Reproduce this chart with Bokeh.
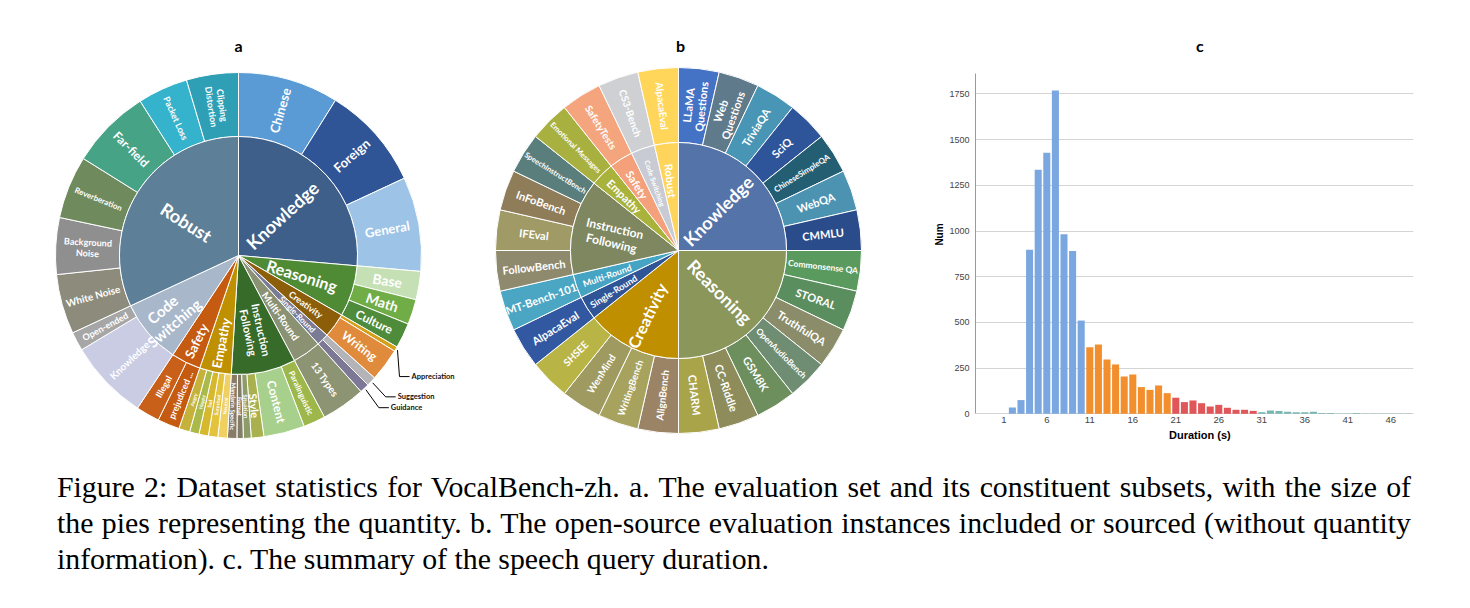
import math
from bokeh.plotting import figure
from bokeh.models import ColumnDataSource, Range1d, Div, FixedTicker
from bokeh.layouts import row, column
from bokeh.embed import file_html
from bokeh.resources import INLINE
from bokeh.core.properties import value

# ---------------- Panel a data (sizes) ----------------
a_inner_names = ["Knowledge", "Reasoning", "Creativity", "Single-Round", "Multi-Round",
                 "Instruction\nFollowing", "Empathy", "Safety", "Code\nSwitching", "Robust"]
a_inner_colors = ["#3E5F8A", "#4F8A35", "#8C5E0A", "#7A7C96", "#8B9274",
                  "#376B2A", "#BF9000", "#C55A11", "#A9B7CB", "#5E7F98"]
a_outer_parent = (["Knowledge"] * 3 + ["Reasoning"] * 3 + ["Creativity"] * 2 + ["Single-Round"] * 2
                  + ["Multi-Round"] + ["Instruction\nFollowing"] * 6 + ["Empathy"] * 5 + ["Safety"] * 2
                  + ["Code\nSwitching"] * 2 + ["Robust"] * 6)
a_outer_names = ["Chinese", "Foreign", "General", "Base", "Math", "Culture", "Appreciation", "Writing",
                 "Suggestion", "Guidance", "13 Types", "Paralinguistic", "Content", "Style", "Situation",
                 "Format", "Mandarin Specific", "Neutral", "Surprised", "Sad", "Happy", "Angry",
                 "prejudiced ...", "Illegal", "Knowledge", "Open-ended", "White Noise", "Background\nNoise",
                 "Reverberation", "Far-field", "Packet Loss", "Clipping\nDistortion"]
a_outer_values = [32, 33, 30, 9, 8, 8, 1.5, 10.5, 3, 3, 14, 7, 13, 4, 2.5, 2, 3,
                  3, 3, 3, 3, 3.5, 7, 7.5, 25.5, 6, 19, 18, 20, 25.5, 16, 16.5]
a_outer_colors = ["#5B9BD5", "#2F5597", "#9DC3E6", "#C5E0B4", "#70AD47", "#4E8B3A", "#D4A017", "#E08A3C",
                  "#B4B4B8", "#7C7896", "#8C9473", "#9DB74A", "#A8D08D", "#A9B04E", "#8D9B69",
                  "#817D67", "#8A7A68", "#F0D060", "#E3C23C", "#D6B82F", "#A9BA4A", "#C5B23A",
                  "#C55A11", "#C8601A", "#C9CCE3", "#A6A6A6", "#8D8B7B", "#8F8F8F", "#6F8A5C",
                  "#47A386", "#35B2CC", "#2E9FB5"]
a_callouts = ["Appreciation", "Suggestion", "Guidance"]

# ---------------- Panel b data (no quantity: equal slices) ----------------
b_inner_names = ["Knowledge", "Reasoning", "Creativity", "Single-Round", "Multi-Round",
                 "Instruction\nFollowing", "Empathy", "Safety", "Code Switching", "Robust"]
b_inner_colors = ["#5473A8", "#8A965A", "#BF8F00", "#2F5597", "#45A3C3",
                  "#7E8760", "#A9B23A", "#F4A07A", "#C8CBD3", "#FFD45A"]
b_outer_parent = (["Knowledge"] * 7 + ["Reasoning"] * 7 + ["Creativity"] * 4 + ["Single-Round"]
                  + ["Multi-Round"] + ["Instruction\nFollowing"] * 4 + ["Empathy"] + ["Safety"]
                  + ["Code Switching"] + ["Robust"])
b_outer_names = ["LLaMA\nQuestions", "Web\nQuestions", "TriviaQA", "SciQ", "ChineseSimpleQA", "WebQA", "CMMLU",
                 "Commonsense QA", "STORAL", "TruthfulQA", "OpenAudioBench", "GSM8K", "CC-Riddle", "CHARM",
                 "AlignBench", "WritingBench", "WenMind", "SHSEE", "AlpacaEval", "MT-Bench-101",
                 "FollowBench", "IFEval", "InFoBench", "SpeechInstructBench", "Emotional Messages",
                 "SafetyTests", "CS3-Bench", "AlpacaEval"]
b_outer_values = [1] * 28
b_outer_colors = ["#4472C4", "#5F7A8A", "#4995B5", "#2E549A", "#245E73", "#4C93B2", "#2B4C8A",
                  "#5A9A5E", "#5B8E5E", "#8A8C6A", "#6F8D72", "#6D8F5E", "#8D8C5A", "#A9A34A",
                  "#9B8466", "#A7A35E", "#9E9A60", "#B8B445", "#3158A0", "#4AA6C3",
                  "#8F8A6D", "#A09A66", "#8F7D5A", "#5A7E7B", "#A8B040", "#F4A57E", "#CFD0D4", "#FFD659"]

# ---------------- Panel c data ----------------
c_duration = list(range(1, 49))
c_counts = [0, 35, 75, 897, 1335, 1428, 1769, 982, 890, 510,
            364, 379, 297, 270, 204, 215, 146, 131, 155, 113,
            88, 64, 73, 58, 40, 49, 33, 22, 22, 16,
            9, 18, 16, 11, 9, 9, 11, 4, 4, 2,
            2, 5, 2, 1, 1, 2, 2, 1]
c_xticks = [1, 6, 11, 16, 21, 26, 31, 36, 41, 46]
c_yticks = [0, 250, 500, 750, 1000, 1250, 1500, 1750]
c_xlim = (-2.29, 48.64)
c_ylim = (0, 1860)

# ---------------- caption ----------------
caption_lines = [
    "Figure 2: Dataset statistics for VocalBench-zh. a. The evaluation set and its constituent subsets, with the size of",
    "the pies representing the quantity. b. The open-source evaluation instances included or sourced (without quantity",
    "information). c. The summary of the speech query duration.",
]

FONT = value("Lato")

# style lists
a_inner_fs = ["18px", "16px", "9px", "8px", "10px", "11px", "13px", "13px", "15px", "18px"]
a_inner_rf = [0.50, 0.56, 0.70, 0.70, 0.62, 0.65, 0.75, 0.80, 0.78, 0.52]
a_outer_fs = [13, 13, 13, 14, 14, 12, 0, 12, 0, 0, 10, 8, 12, 11, 6, 6, 6,
              5, 5, 5, 5, 5, 9, 9, 10, 9, 10, 9, 8, 12, 9, 9]
b_inner_fs = ["18px", "18px", "16px", "9px", "9px", "12px", "11px", "11px", "7px", "11px"]
b_inner_rf = [0.52, 0.54, 0.67, 0.71, 0.70, 0.62, 0.71, 0.72, 0.66, 0.65]
b_outer_fs = [11, 11, 11, 11, 8, 11, 11, 8.5, 11, 11, 8.5, 11, 11, 11,
              10, 9.5, 10, 10, 11, 11, 11, 11, 11, 7.5, 7.5, 10, 10, 10]


def sunburst(p, cx, cy, r_in, r_out, inner_names, inner_colors, parents, names, values, colors,
             inner_fs, inner_rf, outer_fs, flip_at=180.0):
    total = float(sum(values))
    t0, t1 = [], []
    acc = 0.0
    for v in values:
        t0.append(acc / total * 360.0)
        acc += v
        t1.append(acc / total * 360.0)
    i0 = [min(a for a, pa in zip(t0, parents) if pa == n) for n in inner_names]
    i1 = [max(a for a, pa in zip(t1, parents) if pa == n) for n in inner_names]

    def geo(a0, a1, r):
        mid = (a0 + a1) / 2.0
        phi = 90.0 - mid
        x = cx + r * math.cos(math.radians(phi))
        y = cy + r * math.sin(math.radians(phi))
        ang = phi if mid <= flip_at else phi + 180.0
        return x, y, math.radians(ang)

    so = ColumnDataSource(dict(s=[math.radians(90 - a) for a in t0], e=[math.radians(90 - a) for a in t1],
                               c=colors))
    p.annular_wedge(x=cx, y=cy, inner_radius=r_in, outer_radius=r_out, start_angle="s", end_angle="e",
                    direction="clock", fill_color="c", line_color="white", line_width=1, source=so)
    si = ColumnDataSource(dict(s=[math.radians(90 - a) for a in i0], e=[math.radians(90 - a) for a in i1],
                               c=inner_colors))
    p.annular_wedge(x=cx, y=cy, inner_radius=0, outer_radius=r_in, start_angle="s", end_angle="e",
                    direction="clock", fill_color="c", line_color="white", line_width=1, source=si)

    xs, ys, an = [], [], []
    for k in range(len(inner_names)):
        x, y, a = geo(i0[k], i1[k], r_in * inner_rf[k])
        xs.append(x); ys.append(y); an.append(a)
    p.text(x=xs, y=ys, text=inner_names, angle=an, text_align="center", text_baseline="middle",
           text_font=FONT, text_font_style="bold", text_font_size=inner_fs, text_color="white",
           text_line_height=1.0)
    xs, ys, an, tx, fs = [], [], [], [], []
    for k in range(len(names)):
        if outer_fs[k] <= 0:
            continue
        x, y, a = geo(t0[k], t1[k], (r_in + r_out) / 2.0)
        xs.append(x); ys.append(y); an.append(a); tx.append(names[k]); fs.append("%gpx" % outer_fs[k])
    p.text(x=xs, y=ys, text=tx, angle=an, text_align="center", text_baseline="middle",
           text_font=FONT, text_font_style="bold", text_font_size=fs, text_color="white",
           text_line_height=1.0)
    return t0, t1


H_TOP = 468

# ---------------- figure for panels a and b (1 data unit = 1 px, y = -page y) ----------------
W_AB = 900
pab = figure(width=W_AB, height=H_TOP, x_range=Range1d(0, W_AB), y_range=Range1d(-H_TOP, 0),
             output_backend="svg", toolbar_location=None, min_border=0,
             x_axis_location=None, y_axis_location=None)
pab.grid.visible = False
pab.outline_line_color = None

A_CX, A_CY, A_RIN, A_ROUT = 238, -255, 119, 183
B_CX, B_CY, B_RIN, B_ROUT = 678, -250, 108, 183

ta0, ta1 = sunburst(pab, A_CX, A_CY, A_RIN, A_ROUT, a_inner_names, a_inner_colors, a_outer_parent,
                    a_outer_names, a_outer_values, a_outer_colors, a_inner_fs, a_inner_rf, a_outer_fs,
                    flip_at=183.0)
sunburst(pab, B_CX, B_CY, B_RIN, B_ROUT, b_inner_names, b_inner_colors, b_outer_parent,
         b_outer_names, b_outer_values, b_outer_colors, b_inner_fs, b_inner_rf, b_outer_fs)

# callouts for tiny slices in panel a
callout_offsets = [(2, -26.5), (13, -14), (13, -18)]
lx, ly, tx, ty = [], [], [], []
for name, (dx, dy) in zip(a_callouts, callout_offsets):
    k = a_outer_names.index(name)
    mid = (ta0[k] + ta1[k]) / 2.0
    phi = math.radians(90 - mid)
    x0 = A_CX + (A_ROUT + 2) * math.cos(phi)
    y0 = A_CY + (A_ROUT + 2) * math.sin(phi)
    x1, y1 = x0 + dx, y0 + dy
    x2 = x1 + 10
    lx.append([x0, x1, x2]); ly.append([y0, y1, y1])
    tx.append(x2 + 2); ty.append(y1)
pab.multi_line(xs=lx, ys=ly, line_color="black", line_width=1)
pab.text(x=tx, y=ty, text=a_callouts, text_align="left", text_baseline="middle", text_font=FONT,
         text_font_style="bold", text_font_size="7.5px", text_color="#111111")

pab.text(x=[238, 680], y=[-45, -45], text=["a", "b"], text_align="center", text_baseline="middle",
         text_font=FONT, text_font_style="bold", text_font_size="16px", text_color="black")

# ---------------- panel c histogram ----------------
def bar_color(d):
    if d <= 10:
        return "#7BA7E1"
    if d <= 20:
        return "#F28E2B"
    if d <= 30:
        return "#E15759"
    return "#76B7B2"

c_colors = [bar_color(d) for d in c_duration]

# frame: page x 975..1413, y=0 at page 413.3, 45.7 px per 250
PX_PER_Y = 45.7 / 250.0
Y0_PAGE = 413.3
c_yrange = (-(H_TOP - Y0_PAGE) / PX_PER_Y, Y0_PAGE / PX_PER_Y)

W_C = 560
pc = figure(width=W_C, height=H_TOP, x_range=Range1d(*c_xlim), y_range=Range1d(*c_yrange),
            output_backend="svg", toolbar_location=None, x_axis_location=None,
            min_border_left=75, min_border_right=47, min_border_top=0, min_border_bottom=0)
pc.vbar(x=c_duration, top=c_counts, width=0.82, fill_color=c_colors, line_color=None)
pc.outline_line_color = None
pc.xgrid.visible = False
pc.ygrid.grid_line_color = "#d4d4d4"
pc.ygrid.grid_line_width = 1
ax = pc.yaxis[0]
ax.ticker = FixedTicker(ticks=c_yticks)
ax.bounds = c_ylim
ax.major_tick_line_color = None
ax.minor_tick_line_color = None
ax.major_tick_out = 0
ax.major_tick_in = 0
ax.minor_tick_out = 0
ax.minor_tick_in = 0
ax.axis_line_color = "#9a9a9a"
ax.major_label_text_font = "Liberation Sans"
ax.major_label_text_font_size = "9px"
ax.major_label_text_color = "#444444"
ax.major_label_standoff = 6
ax.axis_label = "Num"
ax.axis_label_text_font = "Liberation Sans"
ax.axis_label_text_font_style = "bold"
ax.axis_label_text_font_size = "10px"
ax.axis_label_text_color = "black"
ax.axis_label_standoff = 1

pc.text(x=c_xticks, y=[0] * len(c_xticks), text=[str(t) for t in c_xticks], y_offset=3,
        text_align="center", text_baseline="top", text_font=value("Liberation Sans"),
        text_font_size="9.5px", text_color="#444444")
pc.text(x=[23.8], y=[0], text=["Duration (s)"], y_offset=15, text_align="center", text_baseline="top",
        text_font=value("Liberation Sans"), text_font_style="bold", text_font_size="11px", text_color="black")
pc.text(x=[23.8], y=[(Y0_PAGE - 45) / PX_PER_Y], text=["c"], text_align="center", text_baseline="middle",
        text_font=FONT, text_font_style="bold", text_font_size="16px", text_color="black")

# ---------------- caption ----------------
parts = []
for i, ln in enumerate(caption_lines):
    al = "justify" if i < len(caption_lines) - 1 else "left"
    parts.append('<div style="text-align:%s;text-align-last:%s;">%s</div>' % (al, al, ln))
cap_html = ('<div style="box-sizing:border-box;width:1411px;padding:0 0 0 57px;position:relative;'
            'left:-5px;top:-4px;font-family:\'Liberation Serif\',serif;'
            'font-size:29.8px;line-height:36px;color:#000;">' + "".join(parts) + '</div>')
cap = Div(text=cap_html, width=1460, height=118)

layout = column(row(pab, pc), cap)
open("out.html", "w").write(file_html(layout, INLINE))
